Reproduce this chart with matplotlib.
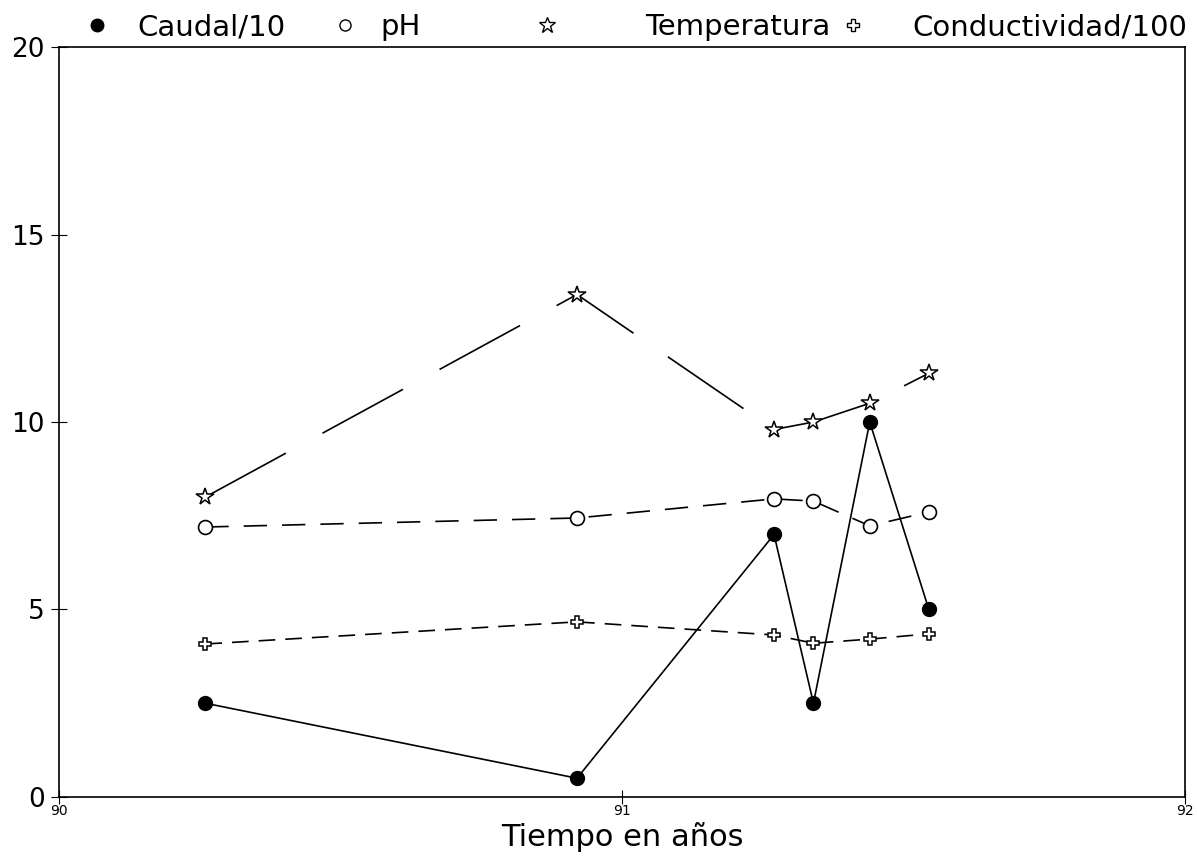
import numpy as np
import matplotlib
matplotlib.use("Agg")
import matplotlib.pyplot as plt

# sampling dates (years) and the four measured series
tiempo = [90.26, 90.92, 91.27, 91.34, 91.44, 91.545]
caudal = [2.5, 0.5, 7.0, 2.5, 10.0, 5.0]
ph = [7.2, 7.44, 7.95, 7.89, 7.23, 7.6]
temperatura = [8.0, 13.4, 9.8, 10.0, 10.5, 11.3]
conductividad = [4.08, 4.67, 4.32, 4.1, 4.21, 4.35]

leyenda = ["Caudal/10", "pH", "Temperatura", "Conductividad/100"]

plt.rcParams['font.family'] = ['DejaVu Sans']

fig = plt.figure(figsize=(11.97, 8.63), dpi=100)
ax = fig.add_axes([0.0493, 0.0765, 0.9407, 0.869])

lw = 1.2
ax.plot(tiempo, caudal, color="black", lw=lw, marker="o", ms=10,
        mfc="black", mec="black")
ax.plot(tiempo, ph, color="black", lw=lw, ls=(0, (14, 9)), marker="o",
        ms=10, mfc="white", mec="black", mew=1.2)
ax.plot(tiempo, temperatura, color="black", lw=lw, ls=(0, (55, 25)),
        marker="*", ms=13, mfc="white", mec="black", mew=1.1)
ax.plot(tiempo, conductividad, color="black", lw=lw, ls=(0, (10, 6)),
        marker="P", ms=9, mfc="white", mec="black", mew=1.1)

ax.set_xlim(90, 92)
ax.set_ylim(0, 20)
ax.set_xticks([90, 91, 92])
ax.set_yticks([0, 5, 10, 15, 20])
ax.tick_params(axis="x", direction="inout", length=10, labelsize=10, pad=0)
ax.tick_params(axis="y", direction="inout", length=12, labelsize=19, pad=4)
for s in ax.spines.values():
    s.set_linewidth(1.2)
ax.set_xlabel("Tiempo en años", fontsize=22, labelpad=3)

# legend row above the frame (marker x, text x in figure fraction)
marcas = [("o", "black", 9), ("o", "white", 8), ("*", "white", 12), ("P", "white", 8)]
xm = [0.081, 0.288, 0.457, 0.7125]
xt = [0.1145, 0.3175, 0.539, 0.762]
for (m, fc, ms), x0, x1, txt in zip(marcas, xm, xt, leyenda):
    fig.add_artist(plt.Line2D([x0], [0.971], marker=m, ms=ms, mfc=fc,
                              mec="black", mew=1.0, ls="none",
                              transform=fig.transFigure))
    fig.text(x1, 0.9594, txt, fontsize=21, va="baseline", ha="left")

fig.savefig("out.png", dpi=100)
